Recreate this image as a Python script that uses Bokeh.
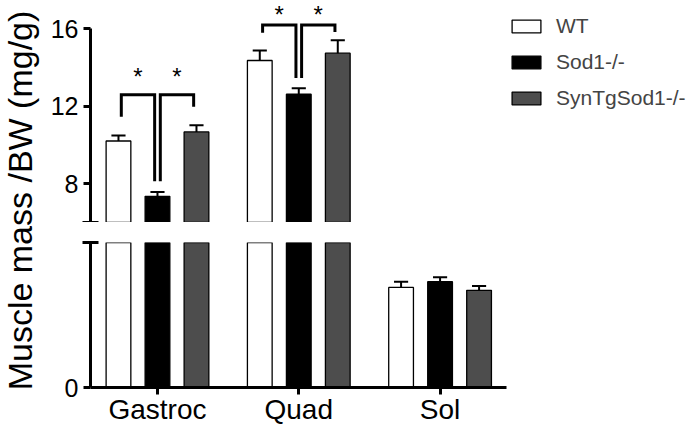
import math
from bokeh.plotting import figure
from bokeh.models import ColumnDataSource, FixedTicker, Legend, LegendItem, Range1d, CDSView, BooleanFilter
from bokeh.layouts import row, column
from bokeh.core.properties import value
from bokeh.embed import file_html
from bokeh.resources import INLINE

# ---------------- data ----------------
muscles = ["Gastroc", "Quad", "Sol"]
genotypes = ["WT", "Sod1-/-", "SynTgSod1-/-"]
wt_mean = [10.20, 14.35, 0.69]
wt_sem = [0.29, 0.51, 0.04]
sod1_mean = [7.35, 12.61, 0.73]
sod1_sem = [0.22, 0.31, 0.03]
syn_mean = [10.67, 14.73, 0.67]
syn_sem = [0.34, 0.67, 0.03]

# significance brackets (muscle index, from genotype, to genotype, top level, leg ends)
sig_muscle = [0, 0, 1, 1]
sig_from = [0, 1, 0, 1]
sig_to = [1, 2, 1, 2]
sig_top = [12.58, 12.58, 16.18, 16.18]
sig_from_end = [11.45, 8.12, 15.78, 13.45]
sig_to_end = [8.12, 11.97, 13.45, 15.82]
sig_label = ["*", "*", "*", "*"]

upper_ticks = [8, 12, 16]
upper_bounds = (6, 16)
lower_ticks = [0]
lower_bounds = (0, 1)

# ---------------- layout constants ----------------
FONT = "Liberation Sans"
offsets = [-0.276, 0.0, 0.276]
bar_w = 0.175
cap_w = 0.10
fills = ["white", "black", "#4d4d4d"]
x0 = -0.474
x1 = x0 + 603 / 141.3
x_axis_end = 2.47
upper_top = 6 + 222 / 19.4

series = list(zip(genotypes, [wt_mean, sod1_mean, syn_mean], [wt_sem, sod1_sem, syn_sem], fills, offsets))


def draw_bars(p, min_val=None):
    rends = []
    for name, mean, sem, fill, off in series:
        xs = [i + off for i in range(len(muscles))]
        src = ColumnDataSource(dict(
            x=xs, top=mean, bottom=[0] * len(mean),
            err=[m + s for m, s in zip(mean, sem)],
            cl=[x - cap_w / 2 for x in xs], cr=[x + cap_w / 2 for x in xs]))
        if min_val is None:
            view = CDSView()
        else:
            view = CDSView(filter=BooleanFilter([m > min_val for m in mean]))
        r = p.vbar(x="x", top="top", bottom="bottom", width=bar_w, source=src, view=view,
                   fill_color=fill, line_color="black", line_width=1.3)
        p.segment(x0="x", y0="top", x1="x", y1="err", source=src, view=view,
                  line_color="black", line_width=2)
        p.segment(x0="cl", y0="err", x1="cr", y1="err", source=src, view=view,
                  line_color="black", line_width=2)
        rends.append((name, r))
    return rends


def style_yaxis(ax):
    ax.axis_line_width = 3
    ax.major_tick_line_width = 3
    ax.minor_tick_line_width = 3
    ax.major_tick_in = 0
    ax.major_tick_out = 7
    ax.minor_tick_in = 8
    ax.minor_tick_out = 8
    ax.major_label_text_font = FONT
    ax.major_label_text_font_size = "25px"
    ax.major_label_text_color = "black"
    ax.major_label_standoff = 4


def base_fig(**kw):
    p = figure(output_backend="svg", toolbar_location=None, x_range=Range1d(x0, x1),
               min_border_left=44, min_border_right=0, **kw)
    p.outline_line_color = None
    p.xgrid.visible = False
    p.ygrid.visible = False
    p.background_fill_color = "white"
    p.border_fill_color = "white"
    return p


# ---------------- upper segment ----------------
up = base_fig(width=647, height=222, y_range=Range1d(upper_bounds[0], upper_top), x_axis_location=None,
              min_border_top=0, min_border_bottom=0)
rends = draw_bars(up, min_val=upper_bounds[0])
style_yaxis(up.yaxis[0])
up.yaxis[0].ticker = FixedTicker(ticks=upper_ticks, minor_ticks=[upper_bounds[0]])
up.yaxis[0].bounds = upper_bounds

bx, by, sx, sy = [], [], [], []
for m, a, b, t, ya, yb in zip(sig_muscle, sig_from, sig_to, sig_top, sig_from_end, sig_to_end):
    xa = m + offsets[a] + 0.02
    xb = m + offsets[b] - 0.02
    bx.append([xa, xa, xb, xb])
    by.append([ya, t, t, yb])
    sx.append((xa + xb) / 2)
    sy.append(min(t + 1.66, upper_top))
up.multi_line(xs=bx, ys=by, line_color="black", line_width=3, line_join="miter")
up.text(x=sx, y=sy, text=sig_label, text_font=value(FONT), text_font_size="24px",
        text_align="center", text_baseline="top", text_color="black")

legend = Legend(items=[LegendItem(label=n, renderers=[r]) for n, r in rends],
                location=(418, 111), orientation="vertical",
                glyph_width=36, glyph_height=16, label_standoff=12,
                label_height=26, spacing=10, padding=0, margin=0,
                label_text_font=FONT, label_text_font_size="21px",
                border_line_color=None, background_fill_alpha=0)
up.add_layout(legend)

# ---------------- lower segment ----------------
lo = base_fig(width=647, height=205, y_range=Range1d(*lower_bounds), min_border_top=20, min_border_bottom=0)
draw_bars(lo)
style_yaxis(lo.yaxis[0])
lo.yaxis[0].ticker = FixedTicker(ticks=lower_ticks, minor_ticks=[lower_bounds[1]])
lo.yaxis[0].bounds = lower_bounds
xa = lo.xaxis[0]
xa.ticker = FixedTicker(ticks=list(range(len(muscles))), minor_ticks=[])
xa.major_label_overrides = {i: m for i, m in enumerate(muscles)}
xa.bounds = (x0, x_axis_end)
xa.axis_line_width = 3
xa.major_tick_line_width = 3
xa.major_tick_in = 0
xa.major_tick_out = 7
xa.minor_tick_line_color = None
xa.major_label_text_font = FONT
xa.major_label_text_font_size = "28px"
xa.major_label_text_color = "black"
xa.major_label_standoff = -1

# ---------------- y axis title ----------------
lab = figure(output_backend="svg", toolbar_location=None, width=46, height=427,
             x_range=Range1d(0, 46), y_range=Range1d(0, 427),
             x_axis_location=None, y_axis_location=None, min_border=0)
lab.outline_line_color = None
lab.xgrid.visible = False
lab.ygrid.visible = False
lab.text(x=[19], y=[227], text=["Muscle mass /BW (mg/g)"], angle=math.pi / 2,
         text_font=value(FONT), text_font_size="34px", text_align="center",
         text_baseline="middle", text_color="black")

layout = row(lab, column(up, lo))
open("out.html", "w").write(file_html(layout, INLINE))
